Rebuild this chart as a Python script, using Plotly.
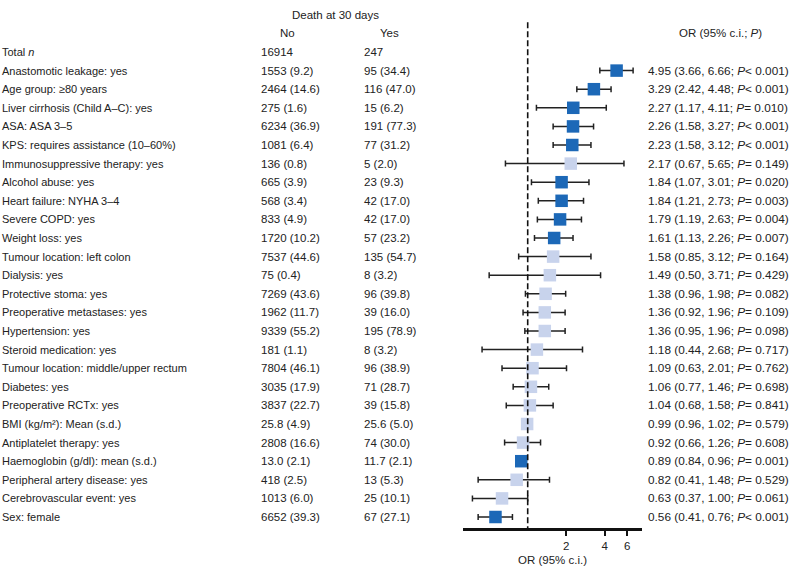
import numpy as np
import plotly.graph_objects as go

# --- data ---
labels = [
    "Anastomotic leakage: yes", "Age group: ≥80 years", "Liver cirrhosis (Child A–C): yes",
    "ASA: ASA 3–5", "KPS: requires assistance (10–60%)", "Immunosuppressive therapy: yes",
    "Alcohol abuse: yes", "Heart failure: NYHA 3–4", "Severe COPD: yes", "Weight loss: yes",
    "Tumour location: left colon", "Dialysis: yes", "Protective stoma: yes",
    "Preoperative metastases: yes", "Hypertension: yes", "Steroid medication: yes",
    "Tumour location: middle/upper rectum", "Diabetes: yes", "Preoperative RCTx: yes",
    "BMI (kg/m²): Mean (s.d.)", "Antiplatelet therapy: yes", "Haemoglobin (g/dl): mean (s.d.)",
    "Peripheral artery disease: yes", "Cerebrovascular event: yes", "Sex: female",
]
death_no = [
    "1553 (9.2)", "2464 (14.6)", "275 (1.6)", "6234 (36.9)", "1081 (6.4)", "136 (0.8)",
    "665 (3.9)", "568 (3.4)", "833 (4.9)", "1720 (10.2)", "7537 (44.6)", "75 (0.4)",
    "7269 (43.6)", "1962 (11.7)", "9339 (55.2)", "181 (1.1)", "7804 (46.1)", "3035 (17.9)",
    "3837 (22.7)", "25.8 (4.9)", "2808 (16.6)", "13.0 (2.1)", "418 (2.5)", "1013 (6.0)",
    "6652 (39.3)",
]
death_yes = [
    "95 (34.4)", "116 (47.0)", "15 (6.2)", "191 (77.3)", "77 (31.2)", "5 (2.0)",
    "23 (9.3)", "42 (17.0)", "42 (17.0)", "57 (23.2)", "135 (54.7)", "8 (3.2)",
    "96 (39.8)", "39 (16.0)", "195 (78.9)", "8 (3.2)", "96 (38.9)", "71 (28.7)",
    "39 (15.8)", "25.6 (5.0)", "74 (30.0)", "11.7 (2.1)", "13 (5.3)", "25 (10.1)",
    "67 (27.1)",
]
odds = [4.95, 3.29, 2.27, 2.26, 2.23, 2.17, 1.84, 1.84, 1.79, 1.61, 1.58, 1.49, 1.38,
        1.36, 1.36, 1.18, 1.09, 1.06, 1.04, 0.99, 0.92, 0.89, 0.82, 0.63, 0.56]
ci_low = [3.66, 2.42, 1.17, 1.58, 1.58, 0.67, 1.07, 1.21, 1.19, 1.13, 0.85, 0.50, 0.96,
          0.92, 0.95, 0.44, 0.63, 0.77, 0.68, 0.96, 0.66, 0.84, 0.41, 0.37, 0.41]
ci_high = [6.66, 4.48, 4.11, 3.27, 3.12, 5.65, 3.01, 2.73, 2.63, 2.26, 3.12, 3.71, 1.98,
           1.96, 1.96, 2.68, 2.01, 1.46, 1.58, 1.02, 1.26, 0.96, 1.48, 1.00, 0.76]
p_vals = ["< 0.001", "< 0.001", "= 0.010", "< 0.001", "< 0.001", "= 0.149", "= 0.020",
          "= 0.003", "= 0.004", "= 0.007", "= 0.164", "= 0.429", "= 0.082", "= 0.109",
          "= 0.098", "= 0.717", "= 0.762", "= 0.698", "= 0.841", "= 0.579", "= 0.608",
          "= 0.001", "= 0.529", "= 0.061", "< 0.001"]
total_no, total_yes = "16914", "247"
x_ticks = [2, 4, 6]

W, H = 798, 571
FONT = "Liberation Sans, Arial, sans-serif"
FS = 11.5
TXT = "#222222"

rows = np.arange(1, len(labels) + 1)
sig = [(l > 1) or (h < 1) for l, h in zip(ci_low, ci_high)]
colors = ["#1c68b7" if s else "#c8d3ec" for s in sig]

def px(x):
    return x / W

fig = go.Figure()
fig.add_trace(go.Scatter(
    x=odds, y=rows, mode="markers",
    marker=dict(symbol="square", size=12.5, color=colors, line=dict(width=0)),
    error_x=dict(type="data", symmetric=False,
                 array=[h - o for h, o in zip(ci_high, odds)],
                 arrayminus=[o - l for o, l in zip(odds, ci_low)],
                 color="#222222", thickness=1.5, width=3),
    showlegend=False, hoverinfo="skip",
))

ann = []
def add(x, y, text, anchor="left", size=FS):
    ann.append(dict(x=px(x), y=y, xref="paper", yref="y", text=text, showarrow=False,
                    xanchor=anchor, yanchor="middle",
                    font=dict(size=size, color=TXT, family=FONT)))

add(335, -2, "Death at 30 days", "center")
add(287, -1, "No", "center")
add(389, -1, "Yes", "center")
add(720, -1, "OR (95% c.i.; <i>P</i>)", "center")
add(0, 0, "Total <i>n</i>", size=11)
add(259, 0, total_no)
add(362, 0, total_yes)
for i, r in enumerate(rows):
    add(0, r, labels[i], size=11)
    add(259, r, death_no[i])
    add(362, r, death_yes[i])
    add(646, r, f"{odds[i]:.2f} ({ci_low[i]:.2f}, {ci_high[i]:.2f}; <i>P</i>{p_vals[i]})",
        size=11.8)

fig.add_shape(type="line", xref="x", yref="y", x0=1, x1=1, y0=-1.6, y1=25.6,
              line=dict(color="#111111", width=1.6, dash="6px,3px"))

# pixel geometry: row r centred at 52 + 18.6*r, axis line at y=528
step = 18.6
y_top = -52 / step
y_bot = (528 - 52) / step
dec = 128.0
x0 = np.log10(1) - (527.7 - 463) / dec
x1 = np.log10(1) + (642 - 527.7) / dec

fig.update_layout(
    width=W, height=H, margin=dict(l=0, r=0, t=0, b=0),
    paper_bgcolor="white", plot_bgcolor="white",
    font=dict(family=FONT, size=FS, color=TXT),
    annotations=ann,
    xaxis=dict(type="log", range=[x0, x1], domain=[px(463), px(642)],
               showline=True, linecolor="#111111", linewidth=2.5,
               ticks="outside", tickvals=x_ticks, ticktext=[str(t) for t in x_ticks],
               tickwidth=2, ticklen=5, tickcolor="#111111",
               tickfont=dict(size=FS, color=TXT, family=FONT),
               showgrid=False, zeroline=False,
               title=dict(text="OR (95% c.i.)", standoff=6,
                          font=dict(size=FS, color=TXT, family=FONT))),
    yaxis=dict(range=[y_bot, y_top], domain=[1 - 528 / H, 1], visible=False,
               showgrid=False, zeroline=False),
)

fig.write_html("out.html", config={"displayModeBar": False},
               post_script="document.body.style.margin='0px';")
